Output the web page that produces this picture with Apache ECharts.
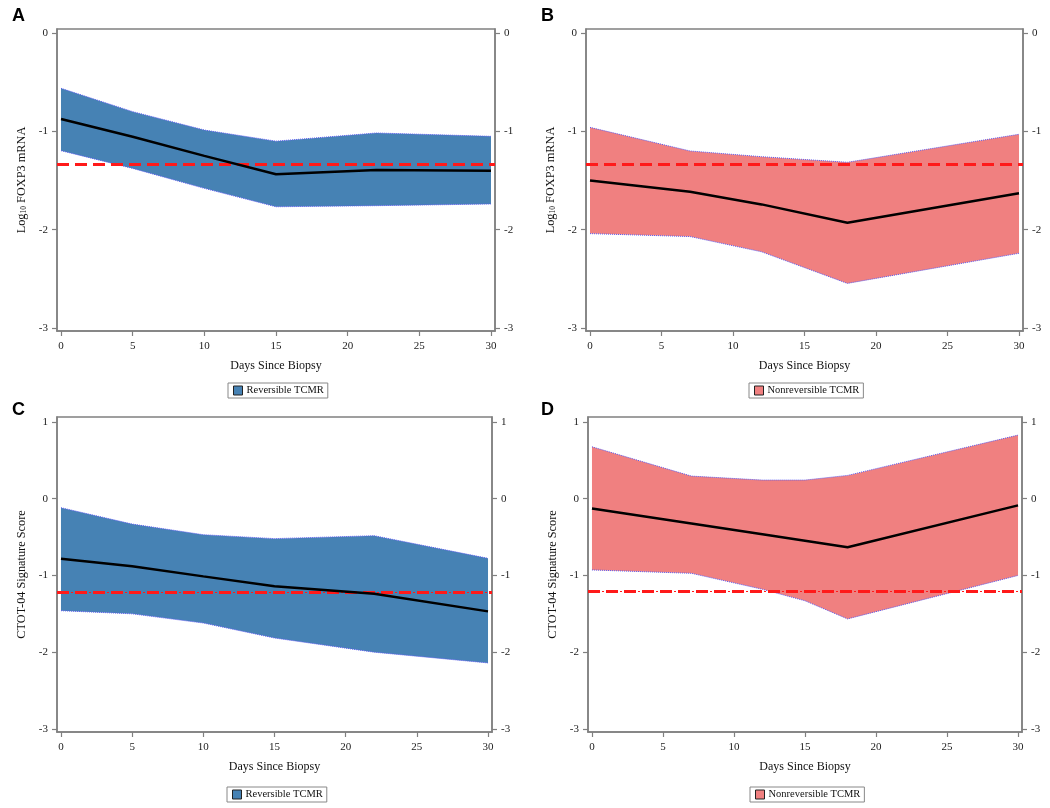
<!DOCTYPE html>
<html><head><meta charset="utf-8">
<script src="https://cdn.jsdelivr.net/npm/echarts@6/dist/echarts.min.js"></script>
<style>html,body{margin:0;padding:0;background:#fff}#c{width:1050px;height:808px}</style>
</head><body><div id="c"></div>
<script>
// ---------- data ----------
const xTicks = [0, 5, 10, 15, 20, 25, 30];
const yTicksFoxp3 = [-3, -2, -1, 0];
const yTicksCtot = [-3, -2, -1, 0, 1];

const daysA  = [0, 5, 10, 15, 22, 30];
const meanA  = [-0.875, -1.055, -1.25, -1.437, -1.393, -1.40];
const upperA = [-0.563, -0.80, -0.987, -1.10, -1.017, -1.051];
const lowerA = [-1.197, -1.377, -1.58, -1.767, -1.756, -1.739];
const thrA = -1.326;

const daysB  = [0, 7, 12, 18, 30];
const meanB  = [-1.50, -1.614, -1.743, -1.929, -1.63];
const upperB = [-0.96, -1.20, -1.258, -1.315, -1.03];
const lowerB = [-2.04, -2.07, -2.225, -2.546, -2.24];
const thrB = -1.326;

const daysC  = [0, 5, 10, 15, 22, 30];
const meanC  = [-0.782, -0.88, -1.012, -1.142, -1.238, -1.468];
const upperC = [-0.117, -0.33, -0.469, -0.52, -0.482, -0.777];
const lowerC = [-1.459, -1.50, -1.62, -1.815, -2.0, -2.14];
const thrC = -1.216;

const daysD  = [0, 7, 12, 15, 18, 30];
const meanD  = [-0.126, -0.323, -0.464, -0.548, -0.633, -0.087];
const upperD = [0.677, 0.295, 0.243, 0.243, 0.304, 0.829];
const lowerD = [-0.928, -0.972, -1.18, -1.33, -1.566, -1.0];
const thrD = -1.197;

const groupRev = 'Reversible TCMR';
const groupNonrev = 'Nonreversible TCMR';
const yNameFoxp3 = '{n|Log}{s|10}{n| FOXP3 mRNA}';
const yNameCtot = 'CTOT-04 Signature Score';
const xName = 'Days Since Biopsy';

// ---------- styling / layout ----------
const SERIF = '"Liberation Serif","Times New Roman",serif';
const AXIS = '#808080';
const BLUE = '#4682B4';
const RED = '#F08080';
const EDGE = '#5a5af0';

const panels = [
  {letter:'A', days:daysA, mean:meanA, upper:upperA, lower:lowerA, thr:thrA, fill:BLUE, group:groupRev,
   yName:yNameFoxp3, yTicks:yTicksFoxp3, ymin:-3.03, ymax:0.04, dashDot:false,
   grid:{left:57, top:29, width:438, height:302}, letterPos:[12,7], legendPos:[228,383]},
  {letter:'B', days:daysB, mean:meanB, upper:upperB, lower:lowerB, thr:thrB, fill:RED, group:groupNonrev,
   yName:yNameFoxp3, yTicks:yTicksFoxp3, ymin:-3.03, ymax:0.04, dashDot:false,
   grid:{left:586, top:29, width:437, height:302}, letterPos:[541,7], legendPos:[749,383]},
  {letter:'C', days:daysC, mean:meanC, upper:upperC, lower:lowerC, thr:thrC, fill:BLUE, group:groupRev,
   yName:yNameCtot, yTicks:yTicksCtot, ymin:-3.04, ymax:1.065, dashDot:true,
   grid:{left:57, top:417, width:435, height:315}, letterPos:[12,401], legendPos:[227,787]},
  {letter:'D', days:daysD, mean:meanD, upper:upperD, lower:lowerD, thr:thrD, fill:RED, group:groupNonrev,
   yName:yNameCtot, yTicks:yTicksCtot, ymin:-3.04, ymax:1.065, dashDot:true,
   grid:{left:588, top:417, width:434, height:315}, letterPos:[541,401], legendPos:[750,787]}
];

const option = {
  animation:false,
  backgroundColor:'#fff',
  title:[], grid:[], xAxis:[], yAxis:[], series:[], legend:[]
};

panels.forEach((p, i) => {
  option.title.push({text:p.letter, left:p.letterPos[0], top:p.letterPos[1], padding:0,
    textStyle:{fontFamily:'"Liberation Sans",Arial,sans-serif', fontWeight:'bold', fontSize:18, color:'#000'}});
  option.grid.push(Object.assign({show:true, borderColor:AXIS, borderWidth:1.5, backgroundColor:'transparent'}, p.grid));
  option.xAxis.push({
    gridIndex:i, type:'value', min:-0.28, max:30.28,
    axisLine:{show:true, onZero:false, lineStyle:{color:AXIS, width:1.5}},
    axisTick:{show:true, customValues:xTicks, length:5, lineStyle:{color:AXIS, width:1.2}},
    axisLabel:{customValues:xTicks, fontFamily:SERIF, fontSize:11, color:'#222', margin:10},
    splitLine:{show:false},
    name:xName, nameLocation:'middle', nameGap:29,
    nameTextStyle:{fontFamily:SERIF, fontSize:12, color:'#111'}
  });
  const yBase = {
    gridIndex:i, type:'value', min:p.ymin, max:p.ymax,
    axisLine:{show:true, onZero:false, lineStyle:{color:AXIS, width:1.5}},
    axisTick:{show:true, customValues:p.yTicks, length:5, lineStyle:{color:AXIS, width:1.2}},
    axisLabel:{customValues:p.yTicks, fontFamily:SERIF, fontSize:11, color:'#222', margin:9},
    splitLine:{show:false}
  };
  option.yAxis.push(Object.assign({}, yBase, {
    position:'left', name:p.yName, nameLocation:'middle', nameGap:29,
    nameTextStyle:{fontFamily:SERIF, fontSize:12.3, color:'#111',
      rich:{n:{fontFamily:SERIF, fontSize:12.3, color:'#111'},
            s:{fontFamily:SERIF, fontSize:7.5, color:'#111', verticalAlign:'bottom', padding:[5,0,0,0]}}}
  }));
  option.yAxis.push(Object.assign({}, yBase, {position:'right'}));

  const xi = i, yi = 2 * i;
  const thrLines = p.dashDot
    ? [{yAxis:p.thr, lineStyle:{color:'#ff1a1a', width:1.2, type:[2,16], dashOffset:-14}},
       {yAxis:p.thr, lineStyle:{color:'#ff1a1a', width:3, type:[12,6]}}]
    : [{yAxis:p.thr, lineStyle:{color:'#ff1a1a', width:3, type:[12,6]}}];

  // confidence band polygon (upper edge forward, lower edge backward), placed through the axes
  option.series.push({
    name:p.group, type:'custom', xAxisIndex:xi, yAxisIndex:yi, silent:true, z:2, clip:true,
    color:p.fill,
    data:p.days.map((d, k) => [d, p.lower[k], p.upper[k]]),
    encode:{x:0, y:[1, 2]},
    renderItem:(params, api) => {
      if (params.dataIndex !== 0) return null;
      const pts = [];
      for (let k = 0; k < p.days.length; k++) pts.push(api.coord([p.days[k], p.upper[k]]));
      for (let k = p.days.length - 1; k >= 0; k--) pts.push(api.coord([p.days[k], p.lower[k]]));
      return {type:'polygon', shape:{points:pts}, style:{fill:p.fill, stroke:null}};
    }
  });
  option.series.push({
    type:'line', xAxisIndex:xi, yAxisIndex:yi,
    data:p.days.map((d, k) => [d, p.lower[k]]),
    symbol:'none', silent:true, z:4,
    lineStyle:{color:EDGE, width:1, type:'dotted'},
    markLine:{silent:true, symbol:['none','none'], label:{show:false}, data:thrLines, animation:false}
  });
  option.series.push({
    type:'line', xAxisIndex:xi, yAxisIndex:yi,
    data:p.days.map((d, k) => [d, p.upper[k]]),
    symbol:'none', silent:true, z:4,
    lineStyle:{color:EDGE, width:1, type:'dotted'}
  });
  option.series.push({
    type:'line', xAxisIndex:xi, yAxisIndex:yi,
    data:p.days.map((d, k) => [d, p.mean[k]]),
    symbol:'none', silent:true, z:5,
    lineStyle:{color:'#000', width:2.5}
  });
  option.legend.push({
    data:[{name:p.group, icon:'rect', itemStyle:{color:p.fill, borderColor:'#222', borderWidth:1}}],
    left:p.legendPos[0], top:p.legendPos[1], orient:'horizontal',
    itemWidth:9, itemHeight:9, itemGap:5, selectedMode:false,
    borderColor:'#888', borderWidth:1, padding:[2,4,2,5],
    textStyle:{fontFamily:SERIF, fontSize:10.5, color:'#111', padding:[0,0,0,-1]}
  });
});

const chart = echarts.init(document.getElementById('c'), null, {renderer:'canvas'});
chart.setOption(option);
</script></body></html>
